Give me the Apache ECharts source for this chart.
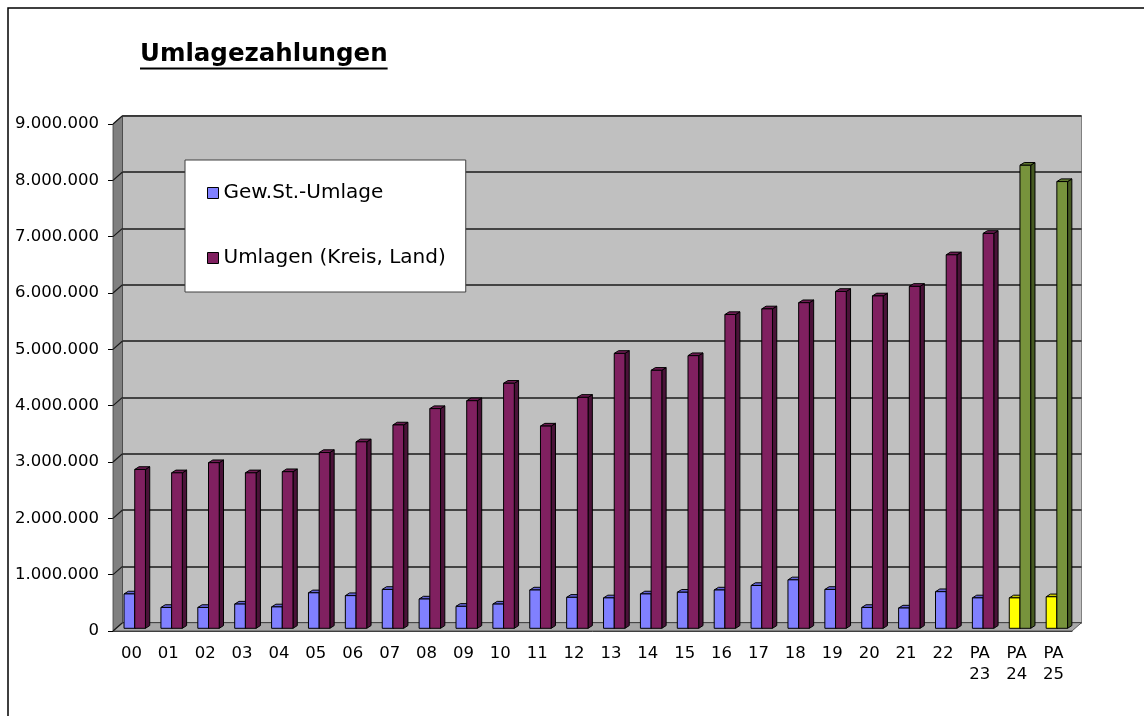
<!DOCTYPE html>
<html>
<head>
<meta charset="utf-8">
<script src="https://cdn.jsdelivr.net/npm/echarts@6/dist/echarts.min.js"></script>
<style>
  html, body { margin: 0; padding: 0; background: #fff; }
  #chart { width: 1144px; height: 716px; }
</style>
</head>
<body>
<div id="chart"></div>
<script>
// Daten (Werte in Euro)
const titleText = 'Umlagezahlungen'
const categories = ['00', '01', '02', '03', '04', '05', '06', '07', '08', '09', '10', '11', '12',
  '13', '14', '15', '16', '17', '18', '19', '20', '21', '22', 'PA\n23', 'PA\n24', 'PA\n25']
const gewStUmlage = [610000, 370000, 370000, 430000, 380000, 630000, 580000, 690000, 520000, 390000,
  430000, 680000, 550000, 540000, 610000, 640000, 680000, 760000, 860000, 690000,
  370000, 360000, 650000, 540000, 540000, 560000]
const umlagenKreisLand = [2820000, 2760000, 2940000, 2760000, 2780000, 3120000, 3310000, 3610000, 3900000, 4040000,
  4350000, 3590000, 4100000, 4880000, 4580000, 4840000, 5570000, 5670000, 5780000, 5980000,
  5900000, 6070000, 6630000, 7010000, 8220000, 7930000]
const seriesNames = ['Gew.St.-Umlage', 'Umlagen (Kreis, Land)']
const planCategories = ['PA\n24', 'PA\n25']
const yTicks = { min: 0, max: 9000000, step: 1000000 }

const FONT = 'DejaVu Sans'
const front = { left: 113, right: 72, top: 124, bottom: 85 }
const depth = { x: 9.5, y: -8.3 }
const back = {
  left: front.left + depth.x,
  right: front.right - depth.x,
  top: front.top + depth.y,
  bottom: front.bottom - depth.y
}
const bar = { w: 10.7, shiftX: 3.3, shiftY: -2.7, dx: 4.3, dy: -2.7 }

const palettes = [
  { front: '#8080ff', top: '#6464d8', side: '#4d4db0' },
  { front: '#802060', top: '#6e1b53', side: '#4a1238' }
]
const planPalettes = [
  { front: '#ffff00', top: '#cccc00', side: '#a6a600' },
  { front: '#77933c', top: '#617a30', side: '#465a22' }
]

const fmt = v => String(v).replace(/\B(?=(\d{3})+(?!\d))/g, '.')

const chart = echarts.init(document.getElementById('chart'))

const renderBar = s => (params, api) => {
  const i = api.value(0)
  const v = api.value(1)
  const p0 = api.coord([i, 0])
  const p1 = api.coord([i, v])
  const c = p0[0] + bar.shiftX
  const x0 = s === 0 ? c - bar.w : c
  const x1 = x0 + bar.w
  const yb = p0[1] + bar.shiftY
  const yt = p1[1] + bar.shiftY
  const pal = planCategories.includes(categories[i]) ? planPalettes[s] : palettes[s]
  const stroke = { stroke: '#000', lineWidth: 1 }
  return {
    type: 'group',
    children: [
      {
        type: 'polygon',
        shape: { points: [[x1, yt], [x1 + bar.dx, yt + bar.dy], [x1 + bar.dx, yb + bar.dy], [x1, yb]] },
        style: Object.assign({ fill: pal.side }, stroke)
      },
      {
        type: 'polygon',
        shape: { points: [[x0, yt], [x1, yt], [x1 + bar.dx, yt + bar.dy], [x0 + bar.dx, yt + bar.dy]] },
        style: Object.assign({ fill: pal.top }, stroke)
      },
      {
        type: 'rect',
        shape: { x: x0, y: yt, width: bar.w, height: yb - yt },
        style: Object.assign({ fill: pal.front }, stroke)
      }
    ]
  }
}

const option = {
  backgroundColor: '#fff',
  animation: false,
  title: {
    text: titleText,
    left: 140,
    top: 42,
    padding: 0,
    textStyle: { fontFamily: FONT, fontSize: 24.5, fontWeight: 'bold', color: '#000' }
  },
  legend: {
    data: seriesNames,
    orient: 'vertical',
    left: 185,
    top: 160,
    padding: [21, 20, 22, 22],
    itemGap: 41,
    itemWidth: 11,
    itemHeight: 11,
    icon: 'rect',
    backgroundColor: '#fff',
    borderColor: '#404040',
    borderWidth: 1,
    borderRadius: 0,
    itemStyle: { borderColor: '#000', borderWidth: 1 },
    textStyle: { fontFamily: FONT, fontSize: 20, lineHeight: 24, color: '#000' }
  },
  grid: [
    {
      left: back.left, right: back.right, top: back.top, bottom: back.bottom,
      show: true, backgroundColor: '#c0c0c0', borderColor: '#808080', borderWidth: 1
    },
    { left: front.left, right: front.right, top: front.top, bottom: front.bottom }
  ],
  xAxis: [
    { gridIndex: 0, type: 'value', min: 0, max: 1, show: false },
    {
      gridIndex: 1,
      type: 'category',
      data: categories,
      axisLine: { lineStyle: { color: '#404040', width: 1 } },
      axisTick: { length: 5, lineStyle: { color: '#404040' } },
      axisLabel: { fontFamily: FONT, fontSize: 16.5, lineHeight: 21, color: '#000', margin: 12, interval: 0 }
    }
  ],
  yAxis: [
    {
      gridIndex: 0, type: 'value', min: yTicks.min, max: yTicks.max, interval: yTicks.step,
      axisLine: { show: false }, axisTick: { show: false }, axisLabel: { show: false },
      splitLine: { lineStyle: { color: '#1a1a1a', width: 1.5 } }
    },
    {
      gridIndex: 1, type: 'value', min: yTicks.min, max: yTicks.max, interval: yTicks.step,
      axisLine: { show: true, lineStyle: { color: '#000', width: 1 } },
      axisTick: { show: true, length: 5, lineStyle: { color: '#000' } },
      axisLabel: { fontFamily: FONT, fontSize: 16.5, color: '#000', margin: 14, formatter: fmt },
      splitLine: { show: false }
    }
  ],
  series: [gewStUmlage, umlagenKreisLand].map((vals, s) => ({
    name: seriesNames[s],
    type: 'custom',
    xAxisIndex: 1,
    yAxisIndex: 1,
    z: 3 + s,
    itemStyle: { color: palettes[s].front, borderColor: '#000', borderWidth: 1 },
    encode: { x: 0, y: 1 },
    data: vals.map((v, i) => [i, v]),
    renderItem: renderBar(s)
  }))
}

chart.setOption(option)

// 3D-Wände und Deko aus den Achsen berechnen
const W = chart.getWidth()
const H = chart.getHeight()
const fx0 = front.left, fx1 = W - front.right
const fy0 = H - front.bottom, fyTop = front.top
const walls = [
  {
    type: 'polygon', z: 1,
    shape: { points: [[fx0, fyTop], [fx0 + depth.x, fyTop + depth.y], [fx0 + depth.x, fy0 + depth.y], [fx0, fy0]] },
    style: { fill: '#808080', stroke: '#404040', lineWidth: 0.8 }
  },
  {
    type: 'polygon', z: 1,
    shape: { points: [[fx0, fy0], [fx1, fy0], [fx1 + depth.x, fy0 + depth.y], [fx0 + depth.x, fy0 + depth.y]] },
    style: { fill: '#a8a8a8', stroke: '#404040', lineWidth: 0.8 }
  }
]
for (let v = yTicks.min; v <= yTicks.max; v += yTicks.step) {
  const y = chart.convertToPixel({ yAxisIndex: 1 }, v)
  walls.push({
    type: 'line', z: 2,
    shape: { x1: fx0, y1: y, x2: fx0 + depth.x, y2: y + depth.y },
    style: { stroke: '#1a1a1a', lineWidth: 1.2 }
  })
}

const ctx = document.createElement('canvas').getContext('2d')
ctx.font = 'bold 24.5px "' + FONT + '"'
const titleW = ctx.measureText(titleText).width

chart.setOption({
  graphic: walls.concat([
    {
      type: 'line', z: 5,
      shape: { x1: 140, y1: 68.5, x2: 140 + titleW, y2: 68.5 },
      style: { stroke: '#000', lineWidth: 2 }
    },
    {
      type: 'rect', z: 0,
      shape: { x: 8, y: 8, width: W + 50, height: H + 50 },
      style: { fill: 'none', stroke: '#000', lineWidth: 1.5 }
    }
  ])
})

window.addEventListener('resize', () => chart.resize())
</script>
</body>
</html>
